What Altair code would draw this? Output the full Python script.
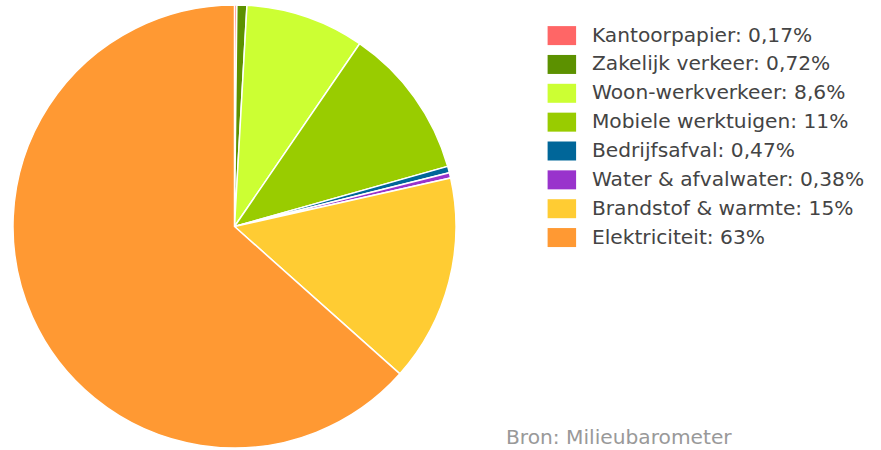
import altair as alt
import pandas as pd

categories = ["Kantoorpapier", "Zakelijk verkeer", "Woon-werkverkeer", "Mobiele werktuigen",
              "Bedrijfsafval", "Water & afvalwater", "Brandstof & warmte", "Elektriciteit"]
values = [0.17, 0.72, 8.6, 11, 0.47, 0.38, 15, 63]
value_labels = ["0,17%", "0,72%", "8,6%", "11%", "0,47%", "0,38%", "15%", "63%"]
colors = ["#ff6666", "#5c9100", "#ccff33", "#99cc00", "#006699", "#9933cc", "#ffcc33", "#ff9933"]
source_text = "Bron: Milieubarometer"

labels = [f"{c}: {v}" for c, v in zip(categories, value_labels)]
df = pd.DataFrame({"label": labels, "value": values, "idx": list(range(len(values)))})

FONT = "DejaVu Sans"

pie = alt.Chart(df).mark_arc(radius=221.5, stroke="white", strokeWidth=1.5).encode(
    theta=alt.Theta("value:Q", stack=True),
    order=alt.Order("idx:Q"),
    color=alt.Color(
        "label:N",
        scale=alt.Scale(domain=labels, range=colors),
        legend=alt.Legend(
            title=None,
            orient="none",
            legendX=551.75,
            legendY=25.5,
            symbolType="M-1.5,-1H1.5V1H-1.5Z",
            symbolSize=361,
            symbolStrokeWidth=0,
            symbolOpacity=1,
            labelFontSize=20.2,
            labelFont=FONT,
            labelColor="#444444",
            labelOffset=20,
            labelLimit=400,
            rowPadding=7.85,
            padding=0,
        ),
    ),
)

src = alt.Chart(pd.DataFrame({"t": [source_text]})).mark_text(
    align="left", baseline="alphabetic", font=FONT, fontSize=20.2, color="#999999"
).encode(x=alt.value(506), y=alt.value(444), text="t:N")

chart = alt.layer(pie, src).properties(
    width=469, height=453, padding=0, background="white"
).configure_view(strokeWidth=0, stroke=None)

chart.save("out.html", embed_options={"renderer": "svg", "actions": False})
